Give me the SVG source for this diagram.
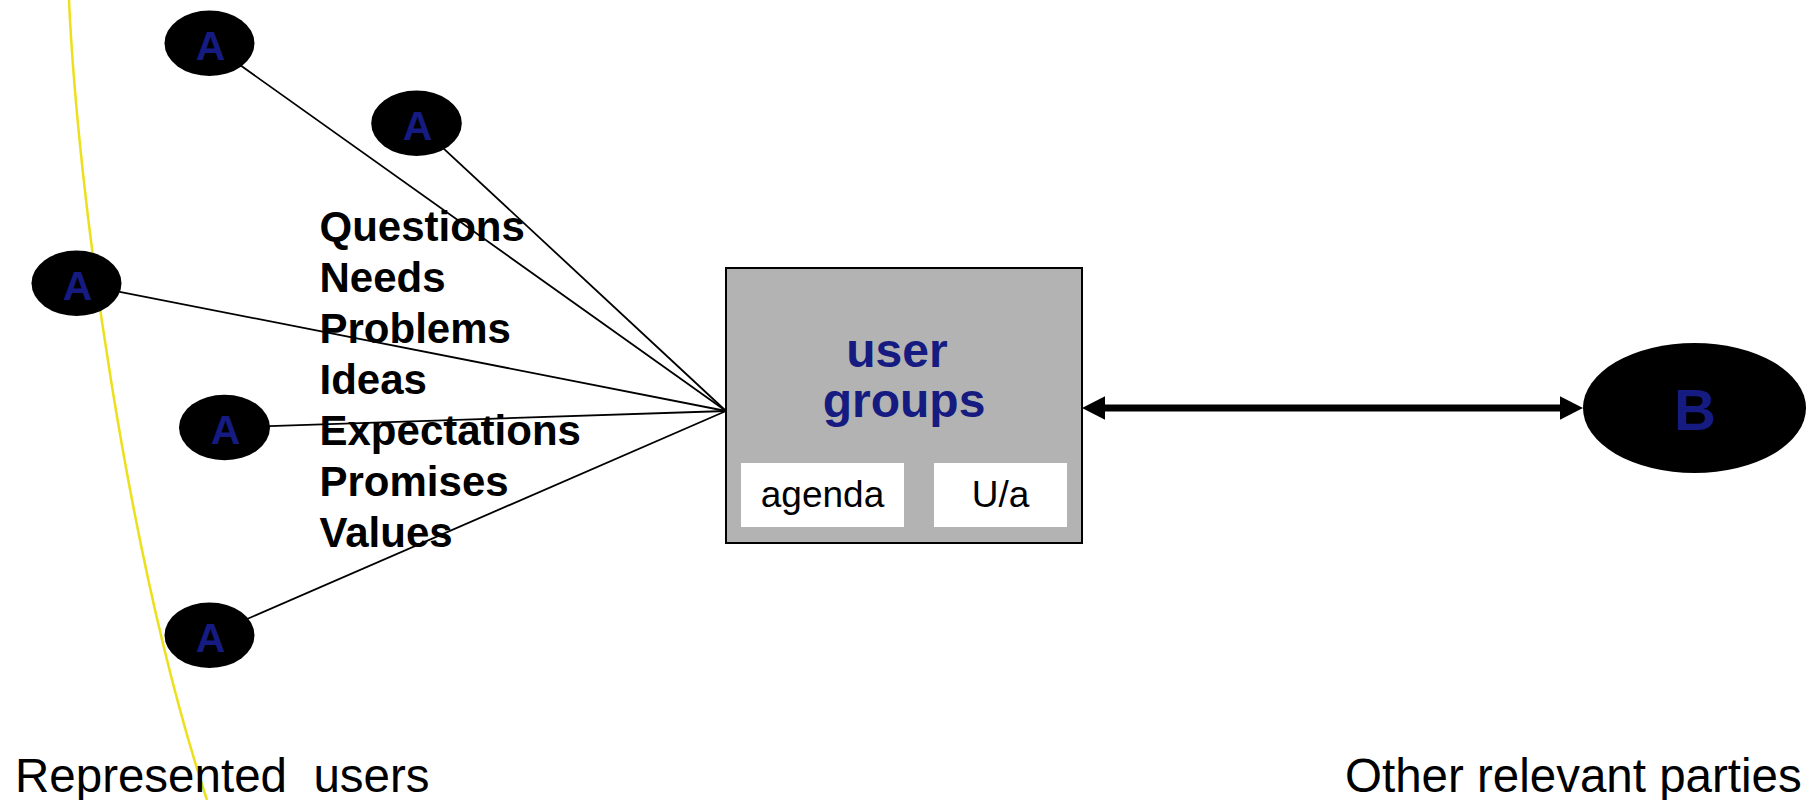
<svg xmlns="http://www.w3.org/2000/svg" width="1808" height="800" viewBox="0 0 1808 800">
  <style>
    .actor { fill: #000000; }
    .actor-label { font-family: "Liberation Sans", Arial, sans-serif; font-weight: bold; font-size: 41px; fill: #151b80; text-anchor: middle; }
    .link { stroke: #000000; stroke-width: 1.8; fill: none; }
    .topic { font-family: "Liberation Sans", Arial, sans-serif; font-weight: bold; font-size: 42px; fill: #000000; }
    .caption { font-family: "Liberation Sans", Arial, sans-serif; font-size: 47.5px; fill: #000000; }
    .tag { font-family: "Liberation Sans", Arial, sans-serif; font-size: 37px; fill: #000000; text-anchor: middle; }
    .title { font-family: "Liberation Sans", Arial, sans-serif; font-weight: bold; font-size: 48px; fill: #151b80; text-anchor: middle; }
  </style>
  <defs>
    <marker id="head" markerUnits="userSpaceOnUse" markerWidth="24" markerHeight="24" refX="0" refY="11.7" orient="auto-start-reverse">
      <path d="M0,0 L23,11.7 L0,23.4 Z" fill="#000000"/>
    </marker>
  </defs>

  <rect width="1808" height="800" fill="#ffffff"/>

  <!-- boundary of the represented user population -->
  <path id="boundary" d="M69,0 C78,200 128,560 207,800" fill="none" stroke="#ece01c" stroke-width="2.5"/>

  <!-- connectors -->
  <g id="connectors">
    <line class="link" x1="209.5" y1="43.3" x2="726" y2="411"/>
    <line class="link" x1="416.5" y1="123.3" x2="726" y2="411"/>
    <line class="link" x1="76.5" y1="283.3" x2="726" y2="411"/>
    <line class="link" x1="224.5" y1="427.5" x2="726" y2="411"/>
    <line class="link" x1="209.5" y1="635.3" x2="726" y2="411"/>
    <line x1="1105" y1="408" x2="1560" y2="408" stroke="#000000" stroke-width="7" marker-start="url(#head)" marker-end="url(#head)"/>
  </g>

  <!-- topics carried by the links -->
  <g id="topics" class="topic">
    <text x="319.5" y="241">Questions</text>
    <text x="319.5" y="292">Needs</text>
    <text x="319.5" y="343">Problems</text>
    <text x="319.5" y="394">Ideas</text>
    <text x="319.5" y="445">Expectations</text>
    <text x="319.5" y="496">Promises</text>
    <text x="319.5" y="547">Values</text>
  </g>

  <!-- represented users -->
  <g id="user-a1">
    <ellipse class="actor" cx="209.5" cy="43.3" rx="45" ry="32.7"/>
    <text class="actor-label" x="210.5" y="60">A</text>
  </g>
  <g id="user-a2">
    <ellipse class="actor" cx="416.5" cy="123.3" rx="45.3" ry="32.7"/>
    <text class="actor-label" x="417.5" y="140">A</text>
  </g>
  <g id="user-a3">
    <ellipse class="actor" cx="76.5" cy="283.3" rx="45" ry="32.7"/>
    <text class="actor-label" x="77.5" y="300">A</text>
  </g>
  <g id="user-a4">
    <ellipse class="actor" cx="224.5" cy="427.5" rx="45.5" ry="32.8"/>
    <text class="actor-label" x="225.5" y="444">A</text>
  </g>
  <g id="user-a5">
    <ellipse class="actor" cx="209.5" cy="635.3" rx="45" ry="32.8"/>
    <text class="actor-label" x="210.5" y="652">A</text>
  </g>

  <!-- user groups -->
  <g id="user-groups">
    <rect x="726" y="268" width="356" height="275" fill="#b3b3b3" stroke="#000000" stroke-width="2"/>
    <text class="title" x="897" y="367">user</text>
    <text class="title" x="904" y="417">groups</text>
    <rect x="741" y="463" width="163" height="64" fill="#ffffff"/>
    <text class="tag" x="822.5" y="507">agenda</text>
    <rect x="934" y="463" width="133" height="64" fill="#ffffff"/>
    <text class="tag" x="1000.5" y="507">U/a</text>
  </g>

  <!-- other party -->
  <g id="party-b">
    <ellipse class="actor" cx="1694.5" cy="408" rx="111.5" ry="65"/>
    <text x="1695" y="430" font-family="Liberation Sans, Arial, sans-serif" font-weight="bold" font-size="58" fill="#151b80" text-anchor="middle">B</text>
  </g>

  <!-- captions -->
  <text class="caption" x="15" y="792" xml:space="preserve">Represented  users</text>
  <text class="caption" x="1345" y="792">Other relevant parties</text>
</svg>
